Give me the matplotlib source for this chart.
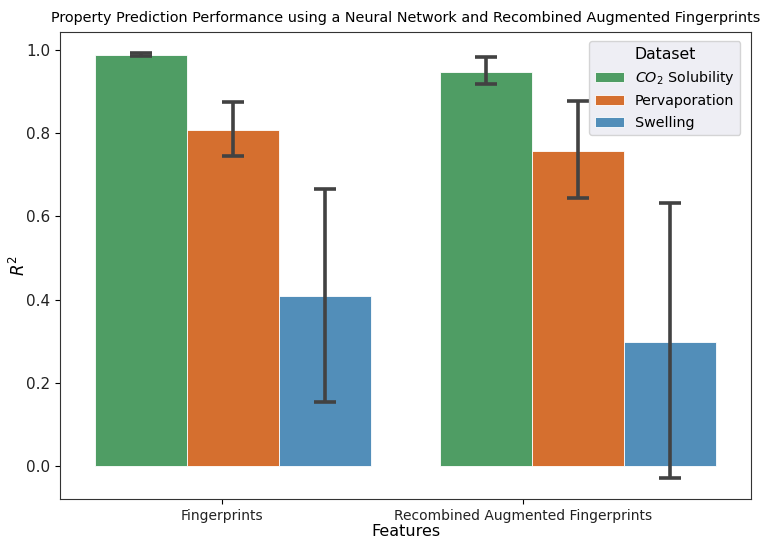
import numpy as np
import matplotlib.pyplot as plt

# Mean R^2 per feature set / dataset, with CI bounds
features = ['Fingerprints', 'Recombined Augmented Fingerprints']
datasets = ['$CO_2$ Solubility', 'Pervaporation', 'Swelling']
colors = ['#4f9d64', '#d56f2f', '#528eb9']

r2_mean = {
    '$CO_2$ Solubility': [0.987, 0.947],
    'Pervaporation': [0.808, 0.758],
    'Swelling': [0.408, 0.299],
}
r2_low = {
    '$CO_2$ Solubility': [0.984, 0.917],
    'Pervaporation': [0.746, 0.644],
    'Swelling': [0.155, -0.028],
}
r2_high = {
    '$CO_2$ Solubility': [0.992, 0.982],
    'Pervaporation': [0.874, 0.877],
    'Swelling': [0.666, 0.631],
}
tick_pos = [-0.032, 0.839]

fig = plt.figure(figsize=(7.64, 5.41), dpi=100)
ax = fig.add_axes([0.0785, 0.0776, 0.9045, 0.8634])

x = np.arange(len(features))
width = 0.8 / len(datasets)
for i, name in enumerate(datasets):
    pos = x - 0.4 + width * (i + 0.5)
    mean = np.array(r2_mean[name])
    err = [mean - np.array(r2_low[name]), np.array(r2_high[name]) - mean]
    ax.bar(pos, mean, width, color=colors[i], edgecolor='white', linewidth=0.6,
           label=name)
    ax.errorbar(pos, mean, yerr=err, fmt='none', ecolor='#424242',
                elinewidth=2.6, capsize=8, capthick=2.6)

ax.set_xlim(-0.5, 1.5)
ax.set_xticks(tick_pos)
ax.set_xticklabels(features, fontsize=10, color='#222222')
ax.tick_params(axis='y', labelsize=11, labelcolor='#222222')
ax.set_xlabel('Features', fontsize=11.5, labelpad=1)
ax.set_ylabel('$R^2$', fontsize=12)
ax.yaxis.set_label_coords(-0.045, 0.5)
ax.set_title('Property Prediction Performance using a Neural Network and Recombined Augmented Fingerprints',
             fontsize=10.4, pad=7)
for s in ax.spines.values():
    s.set_color('#333333')

leg = ax.legend(title='Dataset', loc='upper right', fontsize=10.3, title_fontsize=11.3,
                frameon=True, facecolor='#eaeaf2', edgecolor='#cccccc',
                bbox_to_anchor=(0.995, 0.995))

fig.savefig('out.png', dpi=100)
